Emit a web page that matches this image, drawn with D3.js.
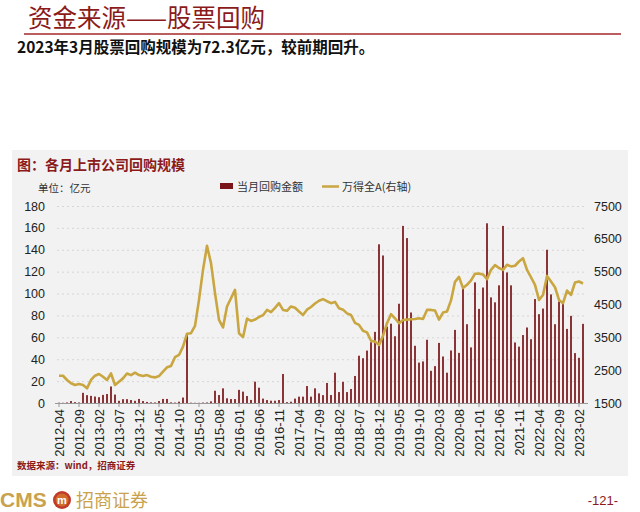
<!DOCTYPE html>
<html><head><meta charset="utf-8">
<script src="https://cdn.jsdelivr.net/npm/d3@7/dist/d3.min.js"></script>
<style>html,body{margin:0;padding:0;background:#fff;}svg{display:block;}</style>
</head><body>
<svg id="c" width="640" height="512"></svg>
<script>
const months = [
"2012-04","2012-05","2012-06","2012-07","2012-08","2012-09","2012-10","2012-11","2012-12",
"2013-01","2013-02","2013-03","2013-04","2013-05","2013-06","2013-07","2013-08","2013-09","2013-10","2013-11","2013-12",
"2014-01","2014-02","2014-03","2014-04","2014-05","2014-06","2014-07","2014-08","2014-09","2014-10","2014-11","2014-12",
"2015-01","2015-02","2015-03","2015-04","2015-05","2015-06","2015-07","2015-08","2015-09","2015-10","2015-11","2015-12",
"2016-01","2016-02","2016-03","2016-04","2016-05","2016-06","2016-07","2016-08","2016-09","2016-10","2016-11","2016-12",
"2017-01","2017-02","2017-03","2017-04","2017-05","2017-06","2017-07","2017-08","2017-09","2017-10","2017-11","2017-12",
"2018-01","2018-02","2018-03","2018-04","2018-05","2018-06","2018-07","2018-08","2018-09","2018-10","2018-11","2018-12",
"2019-01","2019-02","2019-03","2019-04","2019-05","2019-06","2019-07","2019-08","2019-09","2019-10","2019-11","2019-12",
"2020-01","2020-02","2020-03","2020-04","2020-05","2020-06","2020-07","2020-08","2020-09","2020-10","2020-11","2020-12",
"2021-01","2021-02","2021-03","2021-04","2021-05","2021-06","2021-07","2021-08","2021-09","2021-10","2021-11","2021-12",
"2022-01","2022-02","2022-03","2022-04","2022-05","2022-06","2022-07","2022-08","2022-09","2022-10","2022-11","2022-12",
"2023-01","2023-02","2023-03"];

const buyback = [
0.3,0.2,0.5,1.8,0.8,0.5,9.3,7.2,6.5,
5.9,5.3,7.4,8.2,15.1,7.7,2.0,3.5,3.5,2.7,2.0,3.7,
1.8,1.0,0.6,0.5,1.8,3.7,3.7,0.6,0.4,1.2,5.0,63.5,
0.3,0.2,0.2,0.4,0.5,1.5,11.2,7.3,13.4,4.3,3.6,3.6,
12.0,10.4,6.4,2.8,19.5,14.0,4.0,2.7,2.1,2.1,2.7,26.5,
0.8,1.2,4.0,5.8,5.8,15.5,5.8,13.4,8.8,7.2,18.3,7.3,
27.7,10.0,19.3,10.0,12.8,24.7,43.2,40.9,47.9,55.5,65.0,145.0,
134.8,69.8,72.5,61.0,90.7,161.8,150.7,82.7,52.3,36.9,38.0,57.8,
29.4,33.7,54.9,42.5,27.7,48.0,66.8,45.8,105.0,72.0,50.8,110.2,
86.0,105.5,164.2,96.5,92.0,107.5,161.8,119.3,107.5,55.3,51.5,62.1,
69.0,58.3,95.0,81.2,86.3,140.0,99.2,72.0,92.7,91.1,67.7,79.6,
45.6,41.3,72.3];

const windA = [
2332,2330,2201,2100,2049,2080,2049,1947,2201,
2332,2384,2300,2201,2400,2049,2150,2250,2400,2350,2423,2350,
2320,2350,2300,2280,2320,2454,2588,2630,2894,2963,3217,3610,
3625,3848,4640,5555,6287,5760,4845,4030,3800,4440,4690,4945,
3625,3505,4068,4000,4040,4120,4175,4335,4270,4400,4540,4335,
4308,4440,4400,4287,4180,4343,4425,4530,4615,4665,4600,4540,
4580,4385,4343,4230,4180,3940,3880,3700,3650,3395,3370,3270,
3545,3930,4205,4080,3930,4030,4040,4050,4060,4080,4060,4335,
4335,4315,4040,4255,4285,4625,5190,5340,5000,5100,5235,5435,
5440,5415,5270,5555,5700,5610,5555,5710,5660,5680,5810,5910,
5555,5330,5100,4640,4790,5370,5200,5025,4640,4540,4925,4790,
5170,5200,5140];

const xTickLabels = ["2012-04","2012-09","2013-02","2013-07","2013-12","2014-05","2014-10","2015-03","2015-08","2016-01","2016-06","2016-11","2017-04","2017-09","2018-02","2018-07","2018-12","2019-05","2019-10","2020-03","2020-08","2021-01","2021-06","2021-11","2022-04","2022-09","2023-02"];
const leftTicks = [0,20,40,60,80,100,120,140,160,180];
const rightTicks = [1500,2500,3500,4500,5500,6500,7500];

const svg = d3.select("#c");
const DARKRED = "#8b1a1a";
const BAR = "#7a1418";
const GOLD = "#c9a640";
const CJK = "'Noto Sans CJK SC','Noto Sans',sans-serif";
const NUM = "'Liberation Sans',Arial,sans-serif";

// header
svg.append("text").attr("x",28).attr("y",27).attr("font-family",CJK).attr("font-size",24.5)
  .attr("fill",DARKRED).text("资金来源——股票回购");
svg.append("line").attr("x1",24).attr("x2",621).attr("y1",34).attr("y2",34)
  .attr("stroke","#a3282b").attr("stroke-width",1.5);
svg.append("text").attr("x",17).attr("y",53).attr("font-family",CJK).attr("font-size",15.5)
  .attr("font-weight","bold").attr("fill","#111")
  .text("2023年3月股票回购规模为72.3亿元，较前期回升。");

// panel
svg.append("rect").attr("x",12).attr("y",150).attr("width",616).attr("height",326).attr("fill","#f2f2f2");

svg.append("text").attr("x",17).attr("y",170).attr("font-family",CJK).attr("font-size",14)
  .attr("font-weight","bold").attr("fill",DARKRED).text("图：各月上市公司回购规模");
svg.append("text").attr("x",38).attr("y",192).attr("font-family",CJK).attr("font-size",10.5)
  .attr("fill","#333").text("单位：亿元");

// legend
svg.append("rect").attr("x",220).attr("y",183).attr("width",13).attr("height",6).attr("fill",BAR);
svg.append("text").attr("x",237).attr("y",191).attr("font-family",CJK).attr("font-size",11)
  .attr("fill","#333").text("当月回购金额");
svg.append("line").attr("x1",322).attr("x2",339).attr("y1",186.5).attr("y2",186.5)
  .attr("stroke",GOLD).attr("stroke-width",2.5);
svg.append("text").attr("x",342).attr("y",191).attr("font-family",CJK).attr("font-size",11)
  .attr("fill","#333").text("万得全A(右轴)");

// scales
const x = d3.scaleBand().domain(months).range([57,585]).paddingInner(0).paddingOuter(0);
const yL = d3.scaleLinear().domain([0,180]).range([403,206]);
const yR = d3.scaleLinear().domain([1500,7500]).range([403,206]);
const cx = m => x(m) + x.bandwidth()/2;

// grid
svg.append("g").selectAll("line").data(leftTicks.filter(d=>d>0)).join("line")
  .attr("x1",57).attr("x2",587).attr("y1",d=>yL(d)+0.5).attr("y2",d=>yL(d)+0.5)
  .attr("stroke","#d6d6d6").attr("stroke-width",1).attr("stroke-dasharray","2,3");

// bars
const bw = 1.7;
svg.append("g").selectAll("rect").data(months).join("rect")
  .attr("x",(d)=>cx(d)-bw/2).attr("width",bw)
  .attr("y",(d,i)=>yL(buyback[i])).attr("height",(d,i)=>yL(0)-yL(buyback[i]))
  .attr("fill",BAR);

// line
const line = d3.line().x((d,i)=>cx(months[i])).y(d=>yR(d)).curve(d3.curveLinear);
svg.append("path").datum(windA).attr("d",line).attr("fill","none")
  .attr("stroke",GOLD).attr("stroke-width",2.6).attr("stroke-linejoin","round");

// x axis
const xAxis = d3.axisBottom(x).tickValues(xTickLabels).tickSize(4).tickSizeOuter(0);
const gx = svg.append("g").attr("transform","translate(0,403)").call(xAxis);
gx.select(".domain").attr("stroke","#999").attr("d","M55,0.5H588");
gx.selectAll(".tick line").attr("stroke","#999");
gx.selectAll(".tick text").attr("font-family",NUM).attr("font-size",13).attr("fill","#222")
  .attr("transform","rotate(-90)").attr("text-anchor","end").attr("dx","-6").attr("dy","0.35em")
  .attr("x",0).attr("y",0);

// left axis
const gl = svg.append("g").attr("transform","translate(45,0)")
  .call(d3.axisLeft(yL).tickValues(leftTicks).tickSize(0).tickPadding(0));
gl.select(".domain").remove();
gl.selectAll("text").attr("font-family",NUM).attr("font-size",12.5).attr("fill","#222");

// right axis
const gr = svg.append("g").attr("transform","translate(594,0)")
  .call(d3.axisRight(yR).tickValues(rightTicks).tickFormat(d3.format("d")).tickSize(0).tickPadding(0));
gr.select(".domain").remove();
gr.selectAll("text").attr("font-family",NUM).attr("font-size",12.5).attr("fill","#222");

// source
svg.append("text").attr("x",17).attr("y",469).attr("font-family",CJK).attr("font-size",9.5)
  .attr("font-weight","bold").attr("fill",DARKRED).text("数据来源：wind，招商证券");

// footer
svg.append("text").attr("x",0).attr("y",507).attr("font-family",NUM).attr("font-size",21)
  .attr("fill","#c9a24e").attr("font-weight","bold").text("CMS");
svg.append("circle").attr("cx",62).attr("cy",500).attr("r",9).attr("fill","#c0392b");
svg.append("circle").attr("cx",62).attr("cy",500).attr("r",6.5).attr("fill","#e0a030").attr("opacity",0.5);
svg.append("text").attr("x",62).attr("y",504).attr("text-anchor","middle").attr("font-family",NUM)
  .attr("font-size",11).attr("font-weight","bold").attr("fill","#fff").text("m");
svg.append("text").attr("x",76).attr("y",507).attr("font-family",CJK).attr("font-size",18)
  .attr("fill","#c9a24e").text("招商证券");
svg.append("text").attr("x",618).attr("y",505).attr("text-anchor","end").attr("font-family",NUM)
  .attr("font-size",13).attr("fill",DARKRED).text("-121-");
</script>
</body></html>
